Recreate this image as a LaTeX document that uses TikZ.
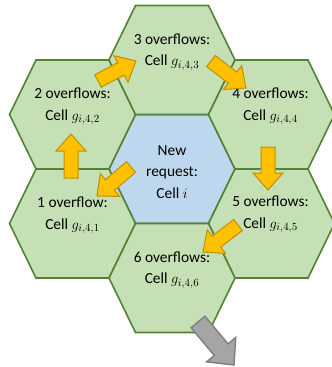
\documentclass[tikz,border=0pt]{standalone}
\usepackage{fontspec}
\setmainfont{Carlito}
\usetikzlibrary{calc}

\definecolor{cellgreen}{HTML}{C5E0B4}
\definecolor{cellblue}{HTML}{BDD7EE}
\definecolor{edgegreen}{HTML}{548235}
\definecolor{arrowgold}{HTML}{FFC000}
\definecolor{arrowrim}{HTML}{BF9000}
\definecolor{exitgray}{HTML}{A5A5A5}
\definecolor{exitrim}{HTML}{7F7F7F}

\tikzstyle{hexline} = [draw=edgegreen, line width=1.6pt, line join=miter]
\tikzstyle{celltext} = [align=center, font=\fontsize{15.4pt}{21.5pt}\selectfont]
\tikzstyle{goldarrow} = [fill=arrowgold, draw=arrowrim, line width=1pt]
\tikzstyle{grayarrow} = [fill=exitgray, draw=exitrim, line width=1.4pt]

% hexagon round a named centre
\newcommand{\hexcell}[2]{%
  \draw[hexline, fill=#2] (#1) ++(-63,0) -- ++(26.5,-54.5) -- ++(73,0)
    -- ++(26.5,54.5) -- ++(-26.5,54.5) -- ++(-73,0) -- cycle;}

% block arrow: style, tail, tip, half shaft, half head, head length
\newcommand{\blockarrow}[6]{%
  \draw[#1] let \p1=($(#3)-(#2)$), \n1={atan2(\y1,\x1)}, \n2={veclen(\x1,\y1)} in
    ($(#2)+(\n1+90:#4)$) -- ($(#2)+(\n1:\n2-#6)+(\n1+90:#4)$)
    -- ($(#2)+(\n1:\n2-#6)+(\n1+90:#5)$) -- (#3)
    -- ($(#2)+(\n1:\n2-#6)+(\n1-90:#5)$) -- ($(#2)+(\n1:\n2-#6)+(\n1-90:#4)$)
    -- ($(#2)+(\n1-90:#4)$) -- cycle;}

\begin{document}
\begin{tikzpicture}[x=1pt, y=-1pt]
\useasboundingbox (0,0) rectangle (332,367);
%Cell centres
\coordinate (c0) at (172,169);
\coordinate (c1) at (72.5,223.5);
\coordinate (c2) at (72.5,114.5);
\coordinate (c3) at (172,60);
\coordinate (c4) at (271.5,114.5);
\coordinate (c5) at (271.5,223.5);
\coordinate (c6) at (172,278);

%Hexagons
\hexcell{c0}{cellblue}
\hexcell{c1}{cellgreen}
\hexcell{c2}{cellgreen}
\hexcell{c3}{cellgreen}
\hexcell{c4}{cellgreen}
\hexcell{c5}{cellgreen}
\hexcell{c6}{cellgreen}

%Labels
\node (newreq) [celltext] at ($(c0)+(0,3)$) {New\\request:\\Cell $i$};
\node (ovf1) [celltext] at ($(c1)+(0,-8)$) {1 overflow:\\Cell $g_{i,4,1}$};
\node (ovf2) [celltext] at ($(c2)+(0,-8)$) {2 overflows:\\Cell $g_{i,4,2}$};
\node (ovf3) [celltext] at ($(c3)+(0,-8)$) {3 overflows:\\Cell $g_{i,4,3}$};
\node (ovf4) [celltext] at ($(c4)+(-1,-8)$) {4 overflows:\\Cell $g_{i,4,4}$};
\node (ovf5) [celltext] at ($(c5)+(-1,-9)$) {5 overflows:\\Cell $g_{i,4,5}$};
\node (ovf6) [celltext] at ($(c6)+(0,-8)$) {6 overflows:\\Cell $g_{i,4,6}$};

%Arrows
\coordinate (a1s) at (131,167);  \coordinate (a1e) at (97,196);
\coordinate (a2s) at (71,178);   \coordinate (a2e) at (71,134);
\coordinate (a3s) at (98,81);    \coordinate (a3e) at (136,61);
\coordinate (a4s) at (211,61);   \coordinate (a4e) at (246,88);
\coordinate (a5s) at (268,147);  \coordinate (a5e) at (268,190);
\coordinate (a6s) at (238,225);  \coordinate (a6e) at (203,252);
\coordinate (exs) at (198,322);  \coordinate (exe) at (234,365);
\blockarrow{goldarrow}{a1s}{a1e}{7pt}{15pt}{17pt}
\blockarrow{goldarrow}{a2s}{a2e}{7pt}{15pt}{17pt}
\blockarrow{goldarrow}{a3s}{a3e}{7pt}{15pt}{17pt}
\blockarrow{goldarrow}{a4s}{a4e}{7pt}{15pt}{17pt}
\blockarrow{goldarrow}{a5s}{a5e}{7pt}{15pt}{17pt}
\blockarrow{goldarrow}{a6s}{a6e}{7pt}{15pt}{17pt}
\blockarrow{grayarrow}{exs}{exe}{9pt}{19pt}{20pt}
\end{tikzpicture}
\end{document}
